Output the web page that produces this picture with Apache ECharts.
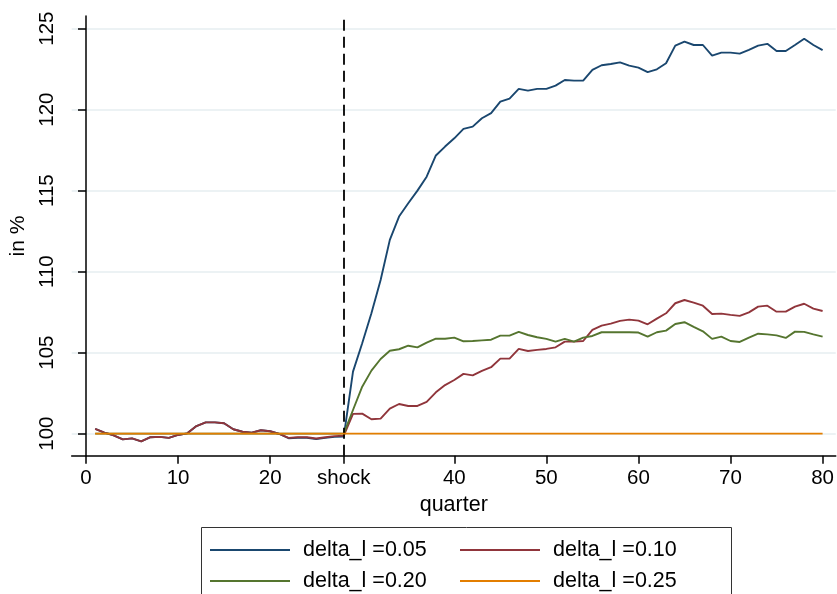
<!DOCTYPE html>
<html>
<head>
<meta charset="utf-8">
<script src="https://cdn.jsdelivr.net/npm/echarts@6/dist/echarts.min.js"></script>
<style>
html,body{margin:0;padding:0;background:#fff;}
#chart{width:837px;height:594px;}
</style>
</head>
<body>
<div id="chart"></div>
<script>
const quarters = [1,2,3,4,5,6,7,8,9,10,11,12,13,14,15,16,17,18,19,20,21,22,23,24,25,26,27,28,29,30,31,32,33,34,35,36,37,38,39,40,41,42,43,44,45,46,47,48,49,50,51,52,53,54,55,56,57,58,59,60,61,62,63,64,65,66,67,68,69,70,71,72,73,74,75,76,77,78,79,80];

const delta005 = [100.29,100.06,99.90,99.65,99.71,99.53,99.78,99.80,99.74,99.92,100.02,100.47,100.70,100.70,100.64,100.27,100.12,100.06,100.21,100.15,99.98,99.72,99.75,99.75,99.66,99.74,99.80,99.82,
103.83,105.58,107.43,109.49,111.96,113.40,114.22,115.00,115.86,117.17,117.72,118.23,118.81,118.95,119.47,119.78,120.49,120.68,121.28,121.17,121.28,121.28,121.48,121.83,121.79,121.79,122.45,122.74,122.82,122.92,122.72,122.59,122.31,122.49,122.86,123.95,124.20,123.99,123.99,123.33,123.52,123.52,123.46,123.69,123.95,124.06,123.62,123.62,123.99,124.38,123.99,123.67];

const delta010 = [100.29,100.06,99.90,99.65,99.71,99.53,99.78,99.80,99.74,99.92,100.02,100.47,100.70,100.70,100.64,100.27,100.12,100.06,100.21,100.15,99.98,99.74,99.78,99.78,99.70,99.78,99.85,99.88,
101.22,101.24,100.89,100.93,101.54,101.83,101.71,101.71,101.96,102.55,103.00,103.31,103.69,103.60,103.87,104.10,104.63,104.63,105.23,105.10,105.17,105.23,105.33,105.68,105.68,105.72,106.40,106.67,106.79,106.96,107.04,106.98,106.75,107.10,107.43,108.05,108.25,108.09,107.90,107.39,107.41,107.33,107.27,107.49,107.84,107.90,107.53,107.53,107.84,108.02,107.72,107.57];

const delta020 = [100,100,100,100,100,100,100,100,100,100,100,100,100,100,100,100,100,100,100,100,100,100,100,100,100,100,100,100,
101.46,102.90,103.89,104.61,105.12,105.21,105.43,105.33,105.62,105.86,105.86,105.93,105.70,105.72,105.76,105.80,106.05,106.05,106.28,106.09,105.95,105.85,105.68,105.85,105.68,105.93,106.03,106.26,106.26,106.26,106.26,106.24,105.99,106.26,106.36,106.77,106.88,106.59,106.32,105.85,105.99,105.72,105.66,105.93,106.17,106.13,106.07,105.91,106.30,106.28,106.13,105.99];

const delta025 = [100,100,100,100,100,100,100,100,100,100,100,100,100,100,100,100,100,100,100,100,100,100,100,100,100,100,100,100,100,100,100,100,100,100,100,100,100,100,100,100,100,100,100,100,100,100,100,100,100,100,100,100,100,100,100,100,100,100,100,100,100,100,100,100,100,100,100,100,100,100,100,100,100,100,100,100,100,100,100,100];

const seriesNames = ['delta_l =0.05','delta_l =0.10','delta_l =0.20','delta_l =0.25'];
const seriesColors = ['#1a476f','#90353b','#55752f','#e37e00'];
const seriesValues = [delta005, delta010, delta020, delta025];

const xTickValues = [0,10,20,28,40,50,60,70,80];
const shockQuarter = 28;
const yTickValues = [100,105,110,115,120,125];

const FONT = 'Liberation Sans, Arial, sans-serif';

const chart = echarts.init(document.getElementById('chart'), null, {renderer:'canvas'});

const series = seriesValues.map((vals, i) => ({
  name: seriesNames[i],
  type: 'line',
  data: quarters.map((q, j) => [q, vals[j]]),
  symbol: 'none',
  lineStyle: {color: seriesColors[i], width: 1.9},
  itemStyle: {color: seriesColors[i]},
  z: 2 + i,
  animation: false
}));

series[0].markLine = {
  silent: true,
  symbol: 'none',
  label: {show: false},
  lineStyle: {color: '#000', type: [11, 6], width: 1.8},
  data: [{xAxis: shockQuarter}],
  animation: false
};

const legendPos = [
  {left: 210, top: 539},
  {left: 460, top: 539},
  {left: 210, top: 570},
  {left: 460, top: 570}
];

const legends = seriesNames.map((n, i) => ({
  data: [n],
  left: legendPos[i].left,
  top: legendPos[i].top,
  padding: 0,
  icon: 'rect',
  itemWidth: 80,
  itemHeight: 2,
  selectedMode: false,
  textStyle: {fontFamily: FONT, fontSize: 21.5, color: '#000', padding: [0,0,0,8]}
}));

chart.setOption({
  animation: false,
  backgroundColor: '#fff',
  grid: {left: 71.7, right: 1, top: 16, bottom: 138.3, containLabel: false},
  xAxis: {
    type: 'value',
    min: -1.55,
    max: 81.43,
    axisLine: {show: true, lineStyle: {color: '#000', width: 1.5}},
    axisTick: {show: true, length: 8, customValues: xTickValues, lineStyle: {color: '#000', width: 1.5}},
    axisLabel: {
      customValues: xTickValues,
      fontFamily: FONT, fontSize: 20.5, color: '#000', margin: 12,
      formatter: v => v === shockQuarter ? 'shock' : String(v)
    },
    splitLine: {show: false},
    name: 'quarter',
    nameLocation: 'middle',
    nameGap: 38,
    nameTextStyle: {fontFamily: FONT, fontSize: 21.5, color: '#000'}
  },
  yAxis: {
    type: 'value',
    min: 98.64,
    max: 125.78,
    axisLine: {show: true, lineStyle: {color: '#000', width: 1.5}},
    axisTick: {show: true, length: 8, customValues: yTickValues, lineStyle: {color: '#000', width: 1.5}},
    axisLabel: {
      customValues: yTickValues,
      rotate: 90,
      fontFamily: FONT, fontSize: 20.5, color: '#000', margin: 14
    },
    splitLine: {show: true, lineStyle: {color: '#e6eef1', width: 1.5}}
  },
  legend: legends,
  graphic: [
    {
      type: 'rect',
      shape: {x: 201.5, y: 527.5, width: 530, height: 80},
      style: {fill: 'none', stroke: '#333', lineWidth: 1},
      silent: true, z: 0
    },
    {
      type: 'text',
      x: 18, y: 236,
      rotation: Math.PI / 2,
      style: {text: 'in %', fontFamily: FONT, fontSize: 21, fill: '#000', align: 'center', verticalAlign: 'middle'},
      silent: true
    }
  ],
  series: series
});
</script>
</body>
</html>
